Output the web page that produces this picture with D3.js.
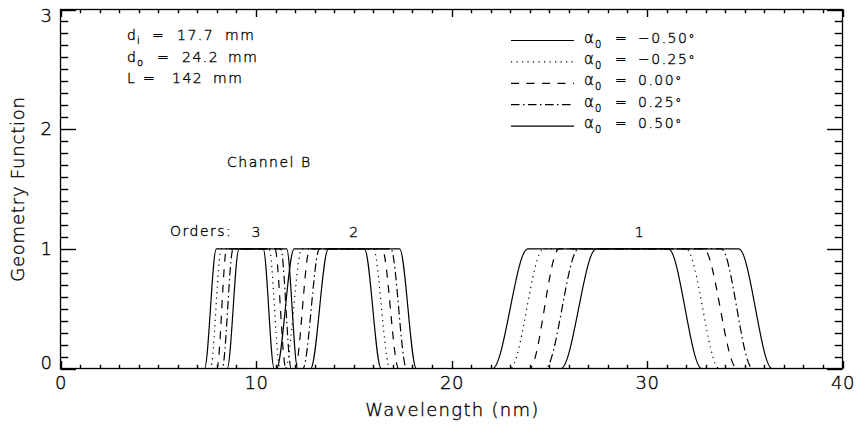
<!DOCTYPE html>
<html>
<head>
<meta charset="utf-8">
<script src="https://cdn.jsdelivr.net/npm/d3@7"></script>
<style>
  html, body { margin: 0; padding: 0; background: #fff; }
  svg { display: block; }
  text { font-family: "DejaVu Sans", sans-serif; font-weight: 200; fill: #000; stroke: #000; stroke-width: 0.35; }
</style>
</head>
<body>
<svg id="chart" width="857" height="435"></svg>
<script>
// Incidence angles of the five curves (degrees) and their legend labels
const alphas = [-0.50, -0.25, 0.00, 0.25, 0.50];
const alphaLabels = ["\u22120.50", "\u22120.25", "0.00", "0.25", "0.50"];
const lineStyles = ["solid", "dotted", "dashed", "dashdot", "solid"];

// Diffraction orders and their passbands: [foot, shoulder, shoulder, foot] in nm, one row per angle
const orders = [3, 2, 1];
const order3Edges = [
  [7.37, 7.97, 10.37, 10.93],
  [7.67, 8.23, 10.67, 11.23],
  [8.00, 8.50, 10.97, 11.53],
  [8.27, 8.83, 11.27, 11.80],
  [8.53, 9.13, 11.57, 12.13]
];
const order2Edges = [
  [11.05, 11.95, 15.55, 16.40],
  [11.50, 12.35, 16.00, 16.85],
  [12.00, 12.75, 16.45, 17.30],
  [12.40, 13.25, 16.90, 17.70],
  [12.80, 13.70, 17.35, 18.20]
];
const order1Edges = [
  [22.1, 23.9, 31.1, 32.8],
  [23.0, 24.7, 32.0, 33.7],
  [24.0, 25.5, 32.9, 34.6],
  [24.8, 26.5, 33.8, 35.4],
  [25.6, 27.4, 34.7, 36.4]
];
const orderEdges = [order3Edges, order2Edges, order1Edges];
const orderLabelAt = [10, 15, 29.6];   // wavelength above which each order number sits

// Axis ticks
const xMajorTicks = [0, 10, 20, 30, 40];
const xMinorTicks = d3.range(0, 41, 1);
const yMajorTicks = [0, 1, 2, 3];
const yMinorTicks = d3.range(0, 31).map(v => v / 10);

// Instrument parameters shown in the corner
const paramSymbols = ["d", "d", "L"];
const paramSubs = ["i", "o", ""];
const paramValues = ["17.7", "24.2", "142"];
const paramUnits = ["mm", "mm", "mm"];

const svg = d3.select("#chart");
const x = d3.scaleLinear().domain([0, 40]).range([60.5, 842.5]);
const y = d3.scaleLinear().domain([0, 3]).range([368.5, 9.5]);

const dashes = {
  solid: null,
  dotted: "1.2,4.3",
  dashed: "8,7.5",
  dashdot: "8.5,3.5,1.5,3.5"
};

// Clip for the curves
svg.append("defs").append("clipPath").attr("id", "plotClip")
  .append("rect").attr("x", x(0)).attr("y", y(3)).attr("width", x(40) - x(0)).attr("height", y(0) - y(3));

const line = d3.line()
  .x(d => x(d[0]))
  .y(d => y(d[1]))
  .curve(d3.curveMonotoneX);

const curves = svg.append("g").attr("clip-path", "url(#plotClip)");
orderEdges.forEach(edges => {
  edges.forEach((e, i) => {
    const pts = [[0, 0], [e[0], 0], [e[1], 1], [e[2], 1], [e[3], 0], [40, 0]];
    curves.append("path")
      .attr("d", line(pts))
      .attr("fill", "none")
      .attr("stroke", "#000")
      .attr("stroke-width", 1.2)
      .attr("stroke-dasharray", dashes[lineStyles[i]]);
  });
});

// Tick marks point into the plot on all four sides
const xTickLen = 7.5, yTickLen = 15.5;
const tickG = svg.append("g")
  .attr("stroke", "#000")
  .attr("stroke-width", 1.4)
  .attr("fill", "none");
xMinorTicks.forEach(v => {
  const len = xMajorTicks.includes(v) ? xTickLen : xTickLen / 2;
  const px = Math.round(x(v)) + 0.5;
  tickG.append("line").attr("x1", px).attr("x2", px).attr("y1", y(0)).attr("y2", y(0) - len);
  tickG.append("line").attr("x1", px).attr("x2", px).attr("y1", y(3)).attr("y2", y(3) + len);
});
yMinorTicks.forEach(v => {
  const len = yMajorTicks.some(t => Math.abs(t - v) < 1e-9) ? yTickLen : yTickLen / 2;
  const py = Math.round(y(v)) + 0.5;
  tickG.append("line").attr("y1", py).attr("y2", py).attr("x1", x(0)).attr("x2", x(0) + len);
  tickG.append("line").attr("y1", py).attr("y2", py).attr("x1", x(40)).attr("x2", x(40) - len);
});

// Tick labels through D3 axes (their own tick lines and domain are dropped)
svg.append("g").attr("transform", `translate(0,${y(0) - 0.5})`)
  .call(d3.axisBottom(x).tickValues(xMajorTicks).tickSize(0).tickPadding(8).tickFormat(d3.format("d")))
  .call(g => g.select(".domain").remove())
  .call(g => g.selectAll(".tick line").remove())
  .call(g => g.selectAll("text").attr("font-size", 18).attr("font-family", "DejaVu Sans").attr("letter-spacing", 0.5));
svg.append("g").attr("transform", `translate(${x(0) - 0.5},0)`)
  .call(d3.axisLeft(y).tickValues(yMajorTicks).tickSize(0).tickPadding(8).tickFormat(d3.format("d")))
  .call(g => g.select(".domain").remove())
  .call(g => g.selectAll(".tick line").remove())
  .call(g => g.selectAll("text")
    .attr("font-size", 18).attr("font-family", "DejaVu Sans")
    .attr("y", d => d === 0 ? -6 : (d === 3 ? 6 : 0)));

// Plot frame
svg.append("rect")
  .attr("x", x(0)).attr("y", y(3))
  .attr("width", x(40) - x(0)).attr("height", y(0) - y(3))
  .attr("fill", "none").attr("stroke", "#000").attr("stroke-width", 1.3);

// Axis titles
svg.append("text")
  .attr("x", (x(0) + x(40)) / 2 + 1).attr("y", 416)
  .attr("text-anchor", "middle").attr("font-size", 18).attr("letter-spacing", 1.3)
  .text("Wavelength (nm)");
svg.append("text")
  .attr("transform", `translate(24,${(y(0) + y(3)) / 2}) rotate(-90)`)
  .attr("text-anchor", "middle").attr("font-size", 18).attr("letter-spacing", 0.8)
  .text("Geometry Function");

// Instrument parameters
const paramEq = [152, 157, 143];
const paramVal = [177, 182, 172];
const paramUnit = [225, 228, 213];
paramSymbols.forEach((s, i) => {
  const by = 40 + i * 21.5;
  const t = svg.append("text").attr("x", 127).attr("y", by).attr("font-size", 14);
  t.append("tspan").text(s);
  if (paramSubs[i]) t.append("tspan").attr("font-size", 10).attr("dx", 1).attr("dy", 4).text(paramSubs[i]);
  svg.append("text").attr("x", paramEq[i]).attr("y", by).attr("font-size", 14).text("=");
  svg.append("text").attr("x", paramVal[i]).attr("y", by).attr("font-size", 14).attr("letter-spacing", 1.5).text(paramValues[i]);
  svg.append("text").attr("x", paramUnit[i]).attr("y", by).attr("font-size", 14).attr("letter-spacing", 1.5).text(paramUnits[i]);
});

svg.append("text").attr("x", 227).attr("y", 167).attr("font-size", 14).attr("letter-spacing", 1.5).text("Channel B");

// Order labels
svg.append("text").attr("x", 170).attr("y", 236).attr("font-size", 14).attr("letter-spacing", 1.5).text("Orders:");
orders.forEach((m, i) => {
  svg.append("text").attr("x", x(orderLabelAt[i])).attr("y", 237)
    .attr("text-anchor", "middle").attr("font-size", 14).text(m);
});

// Legend
const legend = svg.append("g");
alphas.forEach((a, i) => {
  const ly = 40.5 + i * 21.4;
  legend.append("line")
    .attr("x1", 511).attr("x2", 574).attr("y1", ly).attr("y2", ly)
    .attr("stroke", "#000").attr("stroke-width", 1.2)
    .attr("stroke-dasharray", dashes[lineStyles[i]]);
  const t = legend.append("text").attr("x", 584).attr("y", ly + 2).attr("font-size", 14);
  t.append("tspan").attr("font-size", 15).text("\u03b1");
  t.append("tspan").attr("font-size", 10).attr("dx", 1).attr("dy", 5).text("0");
  legend.append("text").attr("x", 615).attr("y", ly + 2).attr("font-size", 14).text("=");
  const v = legend.append("text").attr("x", 638).attr("y", ly + 2).attr("font-size", 14).attr("letter-spacing", 1.5);
  v.append("tspan").text(alphaLabels[i]);
  v.append("tspan").attr("font-size", 12).text("\u00b0");
});
</script>
</body>
</html>
